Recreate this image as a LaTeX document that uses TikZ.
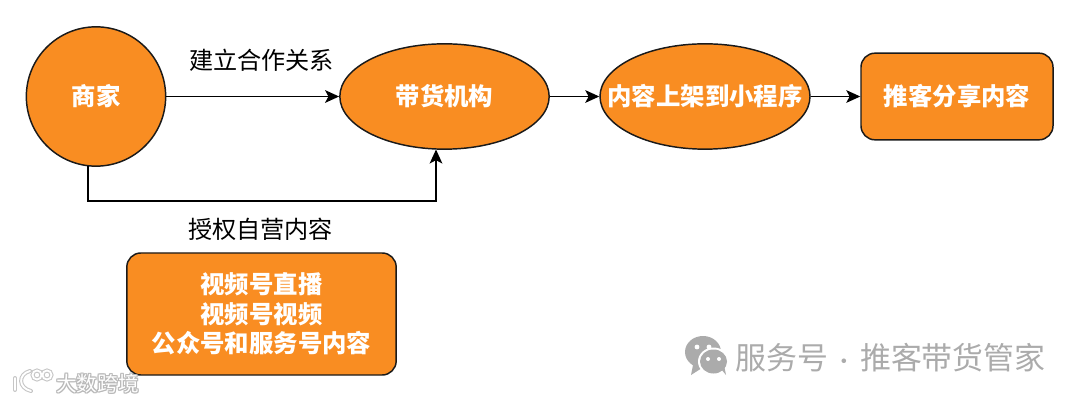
\documentclass[tikz,border=0pt]{standalone}
\usepackage{fontspec}
\setmainfont{Liberation Sans}
\newfontfamily\cjk{Noto Sans CJK SC}
\usetikzlibrary{shapes.geometric,arrows.meta}
\definecolor{fillorange}{HTML}{F98D22}
\definecolor{edgeblack}{HTML}{1A1A1A}
\definecolor{wmgrey}{HTML}{ABABAB}
\tikzset{
  every node/.style={font=\cjk},
  orangeshape/.style={draw=edgeblack,fill=fillorange,line width=1.1pt,text=white,inner sep=0pt,align=center,font=\cjk\bfseries\fontsize{18.3}{22}\selectfont},
  oval/.style={orangeshape,ellipse},
  panel/.style={orangeshape,rectangle,rounded corners=10.5pt},
  conn/.style={draw=black,line width=1.25pt,-{Stealth[length=10.5pt,width=9.5pt,inset=2.5pt]}},
  lbl/.style={text=black,inner sep=0pt,font=\cjk\fontsize{18.1}{22}\selectfont},
  wm/.style={text=wmgrey,inner sep=0pt,font=\cjk\fontsize{23.2}{27}\selectfont},
}
\begin{document}
\begin{tikzpicture}[x=0.75pt,y=-0.75pt]
\useasboundingbox (0,0) rectangle (1080,402);
\fill[white] (0,0) rectangle (1080,402);
\node[oval,minimum width=104.5pt,minimum height=104.5pt] (merchant) at (96,96.5) {商家};
\node[oval,minimum width=157pt,minimum height=79pt] (agency) at (444.5,96.5) {\makebox[0pt][c]{带货机构}};
\node[oval,minimum width=157.5pt,minimum height=79pt] (shelf) at (705,96.5) {\makebox[0pt][c]{内容上架到小程序}};
\node[panel,minimum width=144pt,minimum height=65pt] (share) at (957,96.5) {推客分享内容};
\node[panel,minimum width=202pt,minimum height=91.5pt] (content) at (261.5,314) {\fontsize{18.3}{23.5}\selectfont 视频号直播\\视频号视频\\公众号和服务号内容};
\node[lbl] (lblA) at (261.5,60) {建立合作关系};
\node[lbl] (lblB) at (260.5,229) {授权自营内容};
\draw[conn] (merchant.east) -- (agency.west);
\draw[conn] (agency.east) -- (shelf.west);
\draw[conn] (shelf.east) -- (share.west);
\coordinate (from) at (88,166);
\coordinate (to) at (436,149.5);
\draw[conn] (from) -- (88,201) -- (436,201) -- (to);
% WeChat watermark
\fill[wmgrey] (703,352) ellipse [x radius=18,y radius=16];
\fill[wmgrey] (693,365) -- (691,375) -- (702,368) -- cycle;
\fill[white] (713.5,361.5) ellipse [x radius=15.5,y radius=14];
\fill[wmgrey] (713.5,361.5) ellipse [x radius=13.5,y radius=12];
\fill[white] (697,347) circle (2.4) (709,347) circle (2.4) (708,359) circle (2) (719,359) circle (2);
\fill[wmgrey] (721,369) -- (726,375) -- (724,365) -- cycle;
\node[wm,anchor=west] (brand) at (735,357.5) {服务号\makebox[24pt][c]{\scalebox{0.7}{·}}推客带货管家};
% Site watermark
\begin{scope}[draw=gray!45,line width=3pt,line cap=round]
\draw (15,378) -- (15,390);
\draw (30,371) .. controls (18,374) and (18,388) .. (31,391);
\draw (37,375) circle (4.5) (47,375) circle (4.5);
\end{scope}
\begin{scope}[draw=white,line width=1.4pt,line cap=round]
\draw (15,378) -- (15,390);
\draw (30,371) .. controls (18,374) and (18,388) .. (31,391);
\draw (37,375) circle (4.5) (47,375) circle (4.5);
\end{scope}
\foreach \dx/\dy in {-1/0,1/0,0/-1,0/1,-1/-1,1/1,-1/1,1/-1}{
  \node[text=gray!55,inner sep=0pt,font=\cjk\fontsize{15.5}{18}\selectfont] at (97.5+\dx,383.5+\dy) {大数跨境};
}
\node[text=white,inner sep=0pt,font=\cjk\fontsize{15.5}{18}\selectfont] (site) at (97.5,383.5) {大数跨境};
\end{tikzpicture}
\end{document}
